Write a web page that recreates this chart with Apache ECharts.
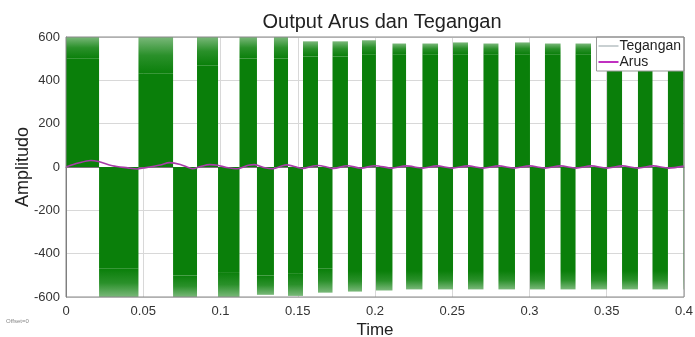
<!DOCTYPE html>
<html>
<head>
<meta charset="utf-8">
<script src="https://cdn.jsdelivr.net/npm/echarts@6/dist/echarts.min.js"></script>
<style>
  html, body { margin: 0; padding: 0; background: #fff; }
  #chart { width: 695px; height: 337px; }
</style>
</head>
<body>
<div id="chart"></div>
<script>
// voltage switching blocks: [start, end, solid level, spike peak]
const teganganBlocks = [
    [0.0000, 0.0214, 500, 620],
    [0.0214, 0.0469, -470, -620],
    [0.0469, 0.0693, 430, 620],
    [0.0693, 0.0848, -500, -620],
    [0.0848, 0.0984, 470, 620],
    [0.0984, 0.1123, -485, -610],
    [0.1123, 0.1236, 500, 610],
    [0.1236, 0.1346, -500, -590],
    [0.1346, 0.1437, 500, 605],
    [0.1437, 0.1534, -490, -595],
    [0.1534, 0.1631, 510, 580],
    [0.1631, 0.1725, -470, -580],
    [0.1725, 0.1825, 510, 580],
    [0.1825, 0.1916, -480, -575],
    [0.1916, 0.2006, 520, 585],
    [0.2006, 0.2113, -480, -570],
    [0.2113, 0.2201, 520, 570],
    [0.2201, 0.2307, -480, -565],
    [0.2307, 0.2408, 520, 570],
    [0.2408, 0.2505, -480, -565],
    [0.2505, 0.2602, 520, 575],
    [0.2602, 0.2702, -480, -565],
    [0.2702, 0.2799, 520, 570],
    [0.2799, 0.2906, -480, -565],
    [0.2906, 0.3003, 520, 575],
    [0.3003, 0.3100, -480, -565],
    [0.3100, 0.3201, 520, 570],
    [0.3201, 0.3298, -480, -565],
    [0.3298, 0.3398, 520, 570],
    [0.3398, 0.3502, -480, -565],
    [0.3502, 0.3599, 520, 570],
    [0.3599, 0.3702, -480, -565],
    [0.3702, 0.3796, 520, 570],
    [0.3796, 0.3896, -480, -565],
    [0.3896, 0.3997, 520, 570],
    [0.3997, 0.4000, -480, -565]
]

// current samples
const arusTime = [0, 0.008, 0.016, 0.021, 0.030, 0.040, 0.046, 0.050, 0.061, 0.067, 0.074, 0.082, 0.087,
    0.093, 0.098, 0.104, 0.111, 0.118, 0.122, 0.128, 0.134, 0.140, 0.143, 0.150, 0.153, 0.160, 0.163,
    0.170, 0.173, 0.182, 0.191, 0.200, 0.211, 0.220, 0.231, 0.240, 0.250, 0.260, 0.270, 0.280, 0.290,
    0.300, 0.310, 0.320, 0.330, 0.340, 0.350, 0.360, 0.370, 0.380, 0.390, 0.400]
const arusValue = [0, 18, 30, 25, 6, -4, -9, -5, 9, 20, 12, -8, 2,
    11, 8, -2, -8, 8, 11, -2, -8, 6, 10, -2, -7, 5, 7,
    -2, -7, 6, -5, 6, -5, 5, -5, 5, -5, 5, -5, 5, -5,
    5, -5, 5, -5, 5, -5, 5, -5, 5, -5, 4]

const xTicks = ['0', '0.05', '0.1', '0.15', '0.2', '0.25', '0.3', '0.35', '0.4']

const GREEN = '#0a7f0a'

function renderBlock(params, api) {
    const t0 = api.value(0)
    const t1 = api.value(1)
    const base = api.value(2)
    const peak = api.value(3)
    const cs = params.coordSys
    const clip = { x: cs.x, y: cs.y, width: cs.width, height: cs.height }
    const p0 = api.coord([t0, 0])
    const p1 = api.coord([t1, base])
    const p2 = api.coord([t1, peak])
    const solid = echarts.graphic.clipRectByRect({
        x: p0[0], y: Math.min(p0[1], p1[1]),
        width: p1[0] - p0[0], height: Math.abs(p1[1] - p0[1])
    }, clip)
    const crown = echarts.graphic.clipRectByRect({
        x: p0[0], y: Math.min(p1[1], p2[1]),
        width: p1[0] - p0[0], height: Math.abs(p2[1] - p1[1])
    }, clip)
    const up = base > 0
    const children = []
    if (solid) children.push({ type: 'rect', shape: solid, style: { fill: GREEN } })
    if (crown) children.push({
        type: 'rect', shape: crown,
        style: {
            fill: new echarts.graphic.LinearGradient(0, up ? 1 : 0, 0, up ? 0 : 1, [
                { offset: 0, color: GREEN },
                { offset: 0.5, color: '#2a902a' },
                { offset: 1, color: '#7ab87a' }
            ])
        }
    })
    return { type: 'group', children: children }
}

const chart = echarts.init(document.getElementById('chart'))
chart.setOption({
    animation: false,
    textStyle: { fontFamily: 'Liberation Sans, Arial, sans-serif' },
    title: {
        text: 'Output Arus dan Tegangan',
        left: 377,
        top: 7,
        textAlign: 'center',
        textStyle: { fontSize: 20, fontWeight: 'normal', color: '#222' }
    },
    legend: {
        orient: 'vertical',
        right: 11,
        top: 37,
        backgroundColor: '#fff',
        borderColor: '#999',
        borderWidth: 1,
        borderRadius: 0,
        padding: [2, 3, 2, 2],
        itemGap: 2,
        itemWidth: 20,
        itemHeight: 2,
        textStyle: { fontSize: 14, color: '#222', padding: [0, 0, 0, -4] },
        data: [
            { name: 'Tegangan', icon: 'rect', itemStyle: { color: '#c9d0d2' } },
            { name: 'Arus', icon: 'rect', itemStyle: { color: '#c030c0' } }
        ]
    },
    grid: { left: 66, right: 11, top: 37, bottom: 40, outerBoundsMode: 'none' },
    xAxis: {
        type: 'value',
        min: 0,
        max: 0.4,
        interval: 0.05,
        name: 'Time',
        nameLocation: 'middle',
        nameGap: 25,
        nameMoveOverlap: false,
        nameTextStyle: { fontSize: 17, color: '#222' },
        axisLine: { show: true, lineStyle: { color: '#777' } },
        axisTick: { show: false },
        axisLabel: {
            fontSize: 13, color: '#333', margin: 8,
            formatter: (v) => xTicks[Math.round(v / 0.05)]
        },
        splitLine: { show: true, lineStyle: { color: '#d8d8d8' } }
    },
    yAxis: {
        type: 'value',
        min: -600,
        max: 600,
        interval: 200,
        name: 'Amplitudo',
        nameLocation: 'middle',
        nameGap: 34,
        nameMoveOverlap: false,
        nameTextStyle: { fontSize: 18, color: '#222' },
        axisLine: { show: true, lineStyle: { color: '#777' } },
        axisTick: { show: false },
        axisLabel: { fontSize: 13, color: '#333', margin: 6 },
        splitLine: { show: true, lineStyle: { color: '#d8d8d8' } }
    },
    graphic: [
        {
            type: 'rect',
            shape: { x: 66, y: 37, width: 618, height: 260 },
            style: { fill: 'none', stroke: '#888', lineWidth: 1 },
            z: 100,
            silent: true
        },
        {
            type: 'text',
            left: 6,
            top: 318,
            style: { text: 'Offset=0', fontSize: 6, fill: '#888' }
        }
    ],
    series: [
        {
            name: 'Tegangan',
            type: 'custom',
            renderItem: renderBlock,
            data: teganganBlocks,
            encode: { x: [0, 1], y: [2, 3] },
            z: 2
        },
        {
            name: 'Arus',
            type: 'line',
            data: arusTime.map((t, i) => [t, arusValue[i]]),
            showSymbol: false,
            smooth: 0.3,
            lineStyle: { color: '#a83ca8', width: 1.6 },
            itemStyle: { color: '#c030c0' },
            z: 5
        }
    ]
})
</script>
</body>
</html>
